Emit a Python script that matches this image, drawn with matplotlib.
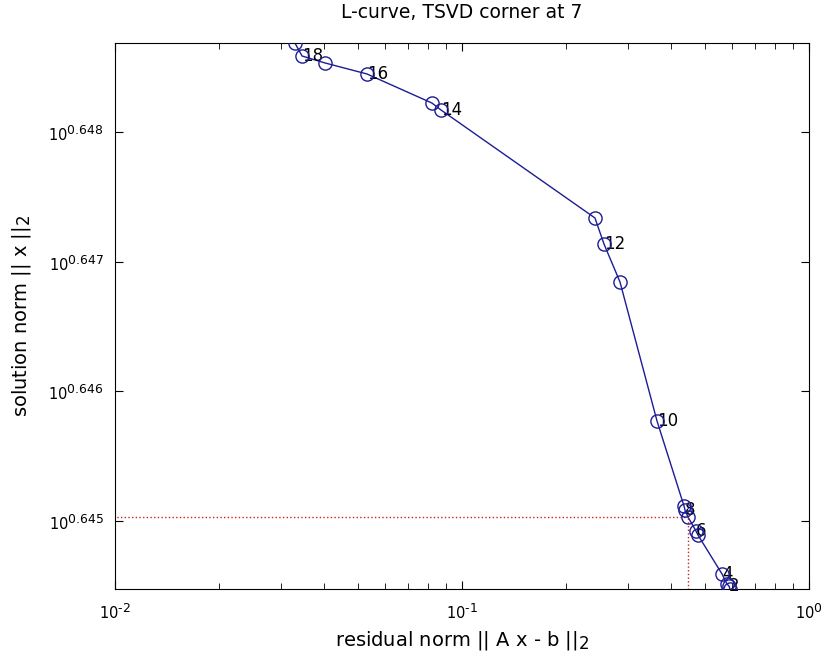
import numpy as np
import matplotlib
matplotlib.use("Agg")
import matplotlib.pyplot as plt
import matplotlib._mathtext as mathtext_internals

# TSVD truncation parameter k = 1..19
k_values = list(range(1, 20))

# residual norm || A x - b ||_2 for each k
residual_norm = [0.5920, 0.5881, 0.5803, 0.5614, 0.4787, 0.4724, 0.4480, 0.4392, 0.4363, 0.3648,
                 0.2853, 0.2566, 0.2416, 0.0870, 0.0819, 0.0532, 0.0403, 0.0346, 0.0330]

# solution norm || x ||_2 for each k
solution_norm = [4.41037, 4.41060, 4.41076, 4.41155, 4.41460, 4.41492, 4.41602, 4.41656, 4.41688, 4.42356,
                 4.43451, 4.43750, 4.43956, 4.44809, 4.44864, 4.45094, 4.45181, 4.45236, 4.45339]

corner_k = 7
ytick_exponents = [0.645, 0.646, 0.647, 0.648]
xtick_exponents = [-2, -1, 0]

# MATLAB style superscripts are nearly full size
mathtext_internals.SHRINK_FACTOR = 0.85

plt.rcParams["font.family"] = ["DejaVu Sans"]
plt.rcParams["mathtext.fontset"] = "dejavusans"

fig = plt.figure(figsize=(8.29, 6.62), dpi=100)
ax = fig.add_axes([115 / 829, 73 / 662, 694 / 829, 546 / 662])

rho = np.array(residual_norm)
eta = np.array(solution_norm)

line_col = "#1c1c96"
ax.plot(rho, eta, "-", color=line_col, lw=1.0)
ax.plot(rho, eta, "o", mfc="none", mec=line_col, ms=9.5, mew=1.0, zorder=3)

# label every second point
for k, r, e in zip(k_values, rho, eta):
    if k % 2 == 0:
        ax.text(r, e, str(k), fontsize=12, ha="left", va="center", zorder=2)

# corner marker lines
ic = k_values.index(corner_k)
rc, ec = rho[ic], eta[ic]
ax.plot([rho.min() / 100, rc], [ec, ec], ":", color="#cc2222", lw=1.0)
ax.plot([rc, rc], [eta.min() / 100, ec], ":", color="#cc2222", lw=1.0)

ax.set_xscale("log")
ax.set_yscale("log")
ax.set_xlim(0.01, 1)
ax.set_ylim(eta.min(), eta.max())

ax.set_xticks([10.0 ** p for p in xtick_exponents])
ax.set_xticklabels([r"$10^{\text{%d}}$" % p for p in xtick_exponents])
ax.set_yticks([10 ** p for p in ytick_exponents])
ax.set_yticklabels([r"$10^{%.3f}$" % p for p in ytick_exponents])
ax.yaxis.set_minor_locator(matplotlib.ticker.NullLocator())

ax.tick_params(which="both", direction="in", top=True, right=True, labelsize=10.5)
ax.tick_params(which="major", length=6)
ax.tick_params(which="minor", length=4)
ax.tick_params(axis="x", pad=9)
ax.tick_params(axis="y", pad=8)

ax.set_title("L-curve, TSVD corner at 7", fontsize=13.5, pad=18)
ax.set_xlabel("residual norm || A x - b ||$_2$", fontsize=14, labelpad=5)
ax.set_ylabel("solution norm || x ||$_2$", fontsize=14, labelpad=11)

fig.savefig("out.png", dpi=100)
